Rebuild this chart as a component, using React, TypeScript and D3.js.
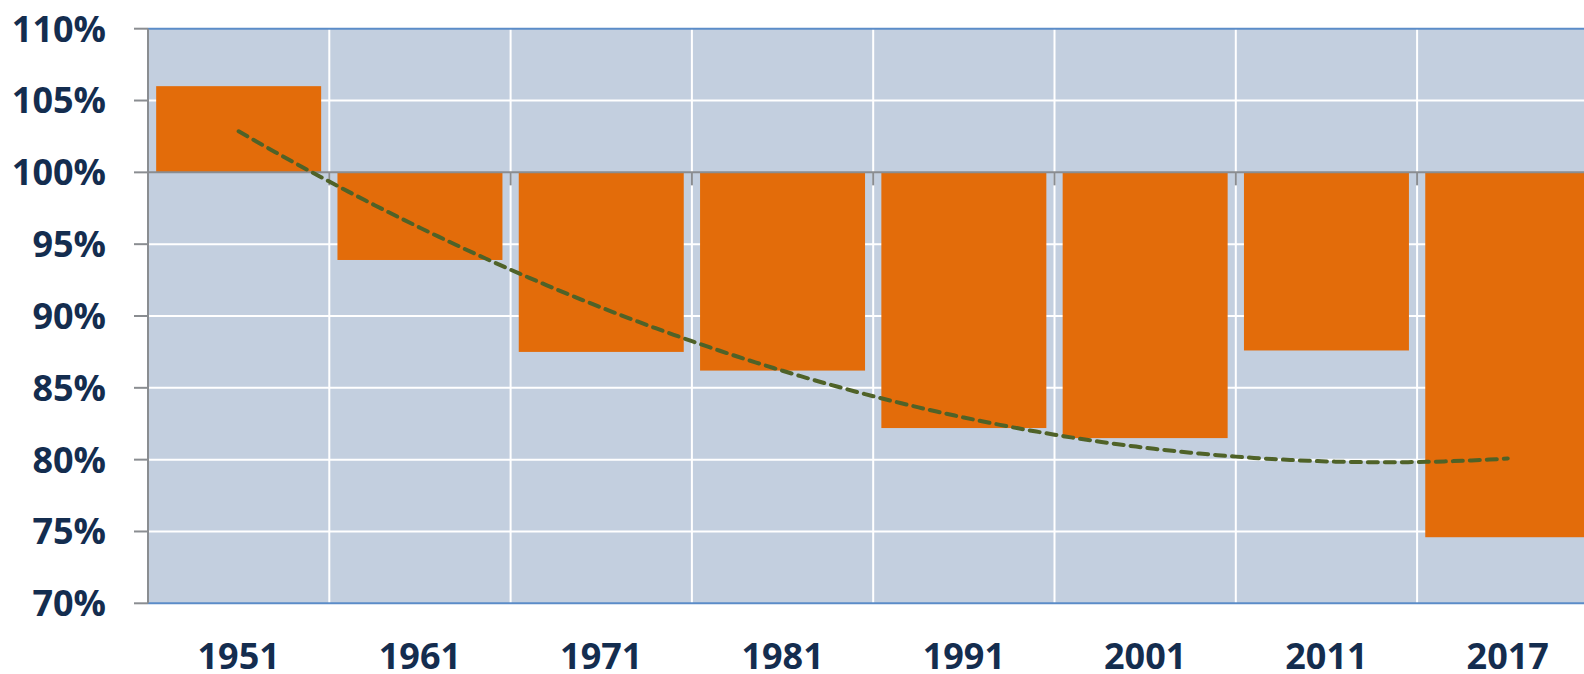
import * as d3 from 'd3';

const years = ['1951', '1961', '1971', '1981', '1991', '2001', '2011', '2017'];
const ratios = [106.0, 93.9, 87.5, 86.2, 82.2, 81.5, 87.6, 74.6];
const yTicks = [70, 75, 80, 85, 90, 95, 100, 105, 110];

const width = 1584;
const height = 674;
const plot = { left: 148, top: 28.7, bottom: 603.3, step: 181.3 };

// Excel-style 2nd order polynomial trendline (least squares on x = 1..n)
function quadFit(vals: number[]) {
    const n = vals.length;
    const xs = vals.map((_, i) => i + 1);
    const s = (f: (x: number, y: number) => number) => d3.sum(xs, (x, i) => f(x, vals[i]));
    const m = [
        [n, s(x => x), s(x => x * x)],
        [s(x => x), s(x => x * x), s(x => x ** 3)],
        [s(x => x * x), s(x => x ** 3), s(x => x ** 4)],
    ];
    const r = [s((x, y) => y), s((x, y) => x * y), s((x, y) => x * x * y)];
    // gaussian elimination
    for (let i = 0; i < 3; i++) {
        for (let k = i + 1; k < 3; k++) {
            const f = m[k][i] / m[i][i];
            for (let j = i; j < 3; j++) m[k][j] -= f * m[i][j];
            r[k] -= f * r[i];
        }
    }
    const c = [0, 0, 0];
    for (let i = 2; i >= 0; i--) {
        let acc = r[i];
        for (let j = i + 1; j < 3; j++) acc -= m[i][j] * c[j];
        c[i] = acc / m[i][i];
    }
    return (x: number) => c[0] + c[1] * x + c[2] * x * x;
}

export default function App() {
    const x = d3.scaleBand<string>().domain(years).range([plot.left, plot.left + plot.step * years.length]);
    const y = d3.scaleLinear().domain([70, 110]).range([plot.bottom, plot.top]);
    const bw = x.bandwidth();
    const barPad = bw * 0.045;
    const plotRight = plot.left + plot.step * years.length;

    const trend = quadFit(ratios);
    const samples = d3.range(1, years.length + 0.001, 0.05);
    const line = d3.line<number>()
        .x(t => (x(years[0]) as number) + bw / 2 + (t - 1) * x.step())
        .y(t => y(trend(t)));

    const font = "'Open Sans', sans-serif";
    const textColor = '#142d4f';

    return (
        <div style={{ position: 'fixed', left: 0, top: 0 }}>
            <svg width={width} height={height} style={{ display: 'block', background: '#fff' }}>
                <rect x={plot.left} y={plot.top} width={plotRight - plot.left} height={plot.bottom - plot.top} fill="#c3cfdf" />
                {/* gridlines */}
                {yTicks.filter(t => t !== 70 && t !== 110 && t !== 100).map(t => (
                    <line key={'h' + t} x1={plot.left} x2={plotRight} y1={y(t)} y2={y(t)} stroke="#fff" strokeWidth={2} />
                ))}
                {years.slice(1).map(yr => (
                    <line key={'v' + yr} x1={x(yr)} x2={x(yr)} y1={plot.top} y2={plot.bottom} stroke="#fff" strokeWidth={2} />
                ))}
                {/* bars */}
                {years.map((yr, i) => (
                    <rect key={yr}
                        x={(x(yr) as number) + barPad}
                        width={bw - 2 * barPad}
                        y={y(Math.max(ratios[i], 100))}
                        height={Math.abs(y(ratios[i]) - y(100))}
                        fill="#e36c0a" />
                ))}
                {/* borders */}
                <line x1={plot.left} x2={plotRight} y1={plot.top} y2={plot.top} stroke="#5b8cc8" strokeWidth={2} />
                <line x1={plot.left} x2={plotRight} y1={plot.bottom} y2={plot.bottom} stroke="#5b8cc8" strokeWidth={2} />
                {/* category axis at 100% */}
                <line x1={plot.left} x2={plotRight} y1={y(100)} y2={y(100)} stroke="#8a8d91" strokeWidth={2} />
                {years.slice(1).map(yr => (
                    <line key={'t' + yr} x1={x(yr)} x2={x(yr)} y1={y(100)} y2={y(100) + 13} stroke="#8a8d91" strokeWidth={2} />
                ))}
                {/* value axis */}
                <line x1={plot.left} x2={plot.left} y1={plot.top} y2={plot.bottom} stroke="#8a8d91" strokeWidth={2} />
                {yTicks.map(t => (
                    <g key={'y' + t}>
                        <line x1={plot.left - 14} x2={plot.left} y1={y(t)} y2={y(t)} stroke="#8a8d91" strokeWidth={2} />
                        <text x={106} y={y(t)} dy="0.36em" textAnchor="end" fontFamily={font} fontWeight={700} fontSize={36} fill={textColor}>
                            {t}%
                        </text>
                    </g>
                ))}
                {years.map(yr => (
                    <text key={'x' + yr} x={(x(yr) as number) + bw / 2} y={669} textAnchor="middle" fontFamily={font} fontWeight={700} fontSize={36} fill={textColor}>
                        {yr}
                    </text>
                ))}
                {/* trendline */}
                <path d={line(samples) ?? ''} fill="none" stroke="#4f6228" strokeWidth={4} strokeDasharray="10 7" strokeLinecap="round" />
            </svg>
        </div>
    );
}
